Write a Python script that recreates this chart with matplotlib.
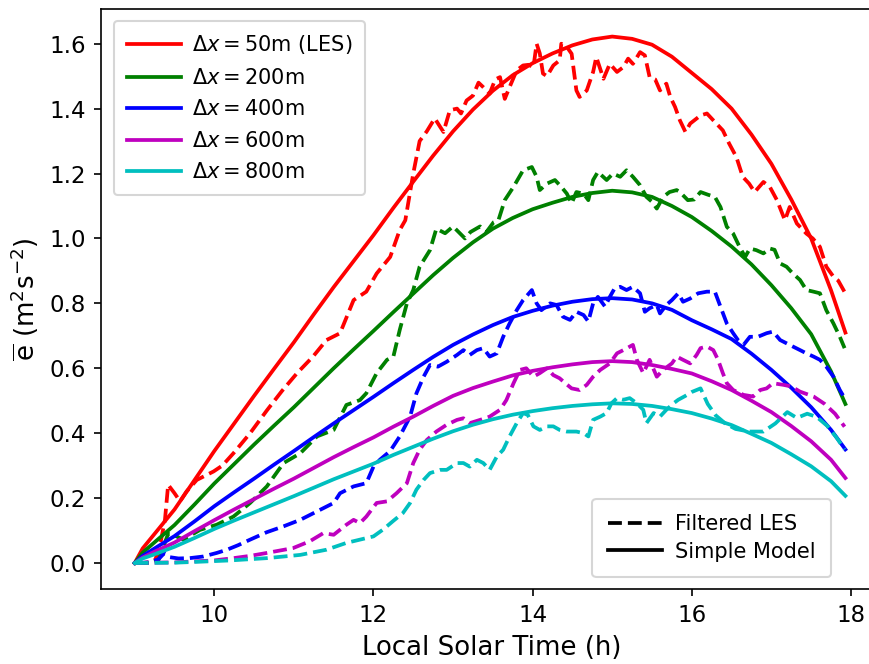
import matplotlib
matplotlib.use("Agg")
import matplotlib.pyplot as plt
from matplotlib.lines import Line2D

# ---- Simple model curves (TKE vs local solar time) ----
t_model = [9.0, 9.1, 9.25, 9.5, 9.75, 10.0, 10.25, 10.5, 10.75, 11.0, 11.25, 11.5, 11.75,
           12.0, 12.25, 12.5, 12.75, 13.0, 13.25, 13.5, 13.75, 14.0, 14.25, 14.5, 14.75,
           15.0, 15.25, 15.5, 15.75, 16.0, 16.25, 16.5, 16.75, 17.0, 17.25, 17.5, 17.75, 17.93]
model_50 = [0.0, 0.045, 0.09, 0.165, 0.255, 0.345, 0.43, 0.515, 0.598, 0.68, 0.766, 0.85, 0.93,
            1.01, 1.094, 1.175, 1.255, 1.33, 1.397, 1.455, 1.503, 1.54, 1.57, 1.595, 1.613,
            1.622, 1.615, 1.597, 1.56, 1.51, 1.46, 1.40, 1.32, 1.23, 1.12, 1.00, 0.84, 0.71]
model_200 = [0.0, 0.032, 0.064, 0.117, 0.18, 0.245, 0.305, 0.365, 0.423, 0.48, 0.54, 0.60, 0.658,
             0.715, 0.773, 0.83, 0.887, 0.94, 0.988, 1.03, 1.063, 1.09, 1.11, 1.128, 1.14,
             1.147, 1.142, 1.128, 1.10, 1.066, 1.023, 0.975, 0.92, 0.856, 0.785, 0.705, 0.59, 0.49]
model_400 = [0.0, 0.022, 0.045, 0.083, 0.128, 0.175, 0.218, 0.26, 0.303, 0.345, 0.388, 0.43, 0.471,
             0.512, 0.554, 0.595, 0.635, 0.672, 0.704, 0.733, 0.758, 0.777, 0.793, 0.805, 0.813,
             0.816, 0.812, 0.80, 0.78, 0.748, 0.72, 0.69, 0.645, 0.595, 0.54, 0.48, 0.41, 0.35]
model_600 = [0.0, 0.017, 0.035, 0.063, 0.098, 0.132, 0.165, 0.197, 0.229, 0.26, 0.293, 0.326, 0.357,
             0.387, 0.42, 0.451, 0.484, 0.515, 0.539, 0.559, 0.578, 0.592, 0.603, 0.612, 0.619,
             0.622, 0.619, 0.61, 0.598, 0.584, 0.56, 0.533, 0.50, 0.465, 0.422, 0.375, 0.318, 0.262]
model_800 = [0.0, 0.014, 0.027, 0.05, 0.077, 0.105, 0.131, 0.156, 0.181, 0.206, 0.232, 0.258, 0.282,
             0.306, 0.333, 0.358, 0.383, 0.406, 0.426, 0.443, 0.457, 0.468, 0.477, 0.484, 0.489,
             0.492, 0.49, 0.484, 0.474, 0.462, 0.445, 0.425, 0.398, 0.37, 0.335, 0.298, 0.252, 0.207]

# ---- Filtered LES (time, e) ----
les_50 = [(9.0, 0.0), (9.1, 0.0), (9.2, 0.003), (9.26, 0.01), (9.33, 0.07), (9.38, 0.133),
          (9.42, 0.241), (9.5, 0.215), (9.57, 0.19), (9.65, 0.22), (9.78, 0.256), (9.99, 0.282),
          (10.1, 0.30), (10.24, 0.338), (10.45, 0.40), (10.66, 0.47), (10.85, 0.53), (11.04, 0.585),
          (11.24, 0.636), (11.41, 0.687), (11.58, 0.708), (11.75, 0.81), (11.91, 0.836),
          (12.04, 0.892), (12.21, 0.943), (12.33, 1.026), (12.40, 1.056), (12.5, 1.20),
          (12.58, 1.30), (12.67, 1.33), (12.77, 1.37), (12.84, 1.343), (12.88, 1.328),
          (12.96, 1.395), (13.05, 1.40), (13.10, 1.385), (13.17, 1.425), (13.25, 1.44),
          (13.32, 1.48), (13.38, 1.466), (13.46, 1.446), (13.53, 1.49), (13.59, 1.497),
          (13.65, 1.43), (13.71, 1.466), (13.8, 1.518), (13.88, 1.533), (13.95, 1.535),
          (14.01, 1.528), (14.05, 1.60), (14.09, 1.57), (14.13, 1.508), (14.18, 1.50),
          (14.26, 1.533), (14.34, 1.549), (14.36, 1.60), (14.43, 1.59), (14.49, 1.569),
          (14.55, 1.456), (14.59, 1.436), (14.68, 1.456), (14.76, 1.513), (14.80, 1.559),
          (14.89, 1.492), (14.97, 1.538), (15.06, 1.513), (15.14, 1.528), (15.2, 1.554),
          (15.26, 1.538), (15.35, 1.574), (15.41, 1.564), (15.47, 1.497), (15.54, 1.49),
          (15.60, 1.456), (15.68, 1.477), (15.73, 1.436), (15.79, 1.405), (15.85, 1.364),
          (15.92, 1.328), (15.98, 1.354), (16.11, 1.379), (16.19, 1.385), (16.27, 1.364),
          (16.39, 1.333), (16.47, 1.292), (16.56, 1.251), (16.64, 1.19), (16.72, 1.169),
          (16.79, 1.143), (16.9, 1.174), (16.98, 1.159), (17.07, 1.118), (17.17, 1.056),
          (17.23, 1.097), (17.32, 1.046), (17.44, 1.015), (17.52, 1.0), (17.61, 0.974),
          (17.69, 0.913), (17.78, 0.882), (17.84, 0.87), (17.92, 0.835)]

les_200 = [(9.0, 0.0), (9.2, 0.0), (9.3, 0.01), (9.36, 0.05), (9.42, 0.09), (9.5, 0.085),
           (9.61, 0.072), (9.82, 0.102), (10.03, 0.118), (10.24, 0.143), (10.45, 0.185),
           (10.66, 0.236), (10.87, 0.308), (11.08, 0.338), (11.29, 0.39), (11.5, 0.41),
           (11.66, 0.487), (11.83, 0.502), (11.91, 0.523), (12.04, 0.585), (12.17, 0.626),
           (12.25, 0.636), (12.33, 0.718), (12.42, 0.80), (12.5, 0.841), (12.58, 0.913),
           (12.71, 0.964), (12.79, 1.03), (12.9, 1.016), (13.0, 1.037), (13.15, 1.0),
           (13.22, 1.02), (13.34, 1.037), (13.42, 1.02), (13.51, 1.05), (13.57, 1.056),
           (13.65, 1.118), (13.76, 1.159), (13.88, 1.21), (13.99, 1.22), (14.05, 1.19),
           (14.09, 1.149), (14.18, 1.169), (14.28, 1.18), (14.36, 1.159), (14.43, 1.138),
           (14.49, 1.108), (14.55, 1.143), (14.64, 1.138), (14.70, 1.118), (14.76, 1.18),
           (14.82, 1.205), (14.93, 1.18), (15.01, 1.2), (15.10, 1.19), (15.18, 1.21),
           (15.26, 1.19), (15.35, 1.164), (15.43, 1.128), (15.50, 1.113), (15.56, 1.092),
           (15.64, 1.128), (15.72, 1.143), (15.81, 1.149), (15.85, 1.143), (15.95, 1.118),
           (16.03, 1.12), (16.11, 1.143), (16.2, 1.135), (16.29, 1.128), (16.36, 1.097),
           (16.44, 1.036), (16.52, 1.015), (16.6, 0.974), (16.67, 0.943), (16.73, 0.969),
           (16.81, 0.964), (16.9, 0.954), (16.98, 0.969), (17.04, 0.965), (17.11, 0.923),
           (17.19, 0.913), (17.27, 0.892), (17.36, 0.872), (17.44, 0.841), (17.53, 0.836),
           (17.61, 0.831), (17.69, 0.779), (17.78, 0.738), (17.86, 0.697), (17.92, 0.662)]

les_400 = [(9.0, 0.0), (9.2, 0.002), (9.3, 0.012), (9.37, 0.03), (9.44, 0.018), (9.55, 0.014),
           (9.69, 0.015), (9.86, 0.02), (10.03, 0.031), (10.16, 0.041), (10.3, 0.055),
           (10.45, 0.072), (10.66, 0.095), (10.87, 0.113), (11.08, 0.133), (11.29, 0.159),
           (11.5, 0.185), (11.58, 0.215), (11.75, 0.236), (11.91, 0.246), (12.0, 0.297),
           (12.08, 0.318), (12.21, 0.345), (12.33, 0.39), (12.46, 0.451), (12.54, 0.523),
           (12.63, 0.574), (12.71, 0.61), (12.81, 0.605), (12.92, 0.62), (13.05, 0.641),
           (13.13, 0.656), (13.21, 0.641), (13.30, 0.656), (13.38, 0.662), (13.46, 0.636),
           (13.55, 0.646), (13.63, 0.697), (13.71, 0.738), (13.80, 0.779), (13.88, 0.81),
           (13.99, 0.841), (14.05, 0.80), (14.11, 0.779), (14.22, 0.80), (14.30, 0.795),
           (14.38, 0.759), (14.47, 0.749), (14.55, 0.774), (14.64, 0.764), (14.70, 0.744),
           (14.76, 0.80), (14.82, 0.82), (14.91, 0.79), (14.97, 0.82), (15.03, 0.846),
           (15.10, 0.851), (15.18, 0.841), (15.26, 0.851), (15.35, 0.831), (15.41, 0.774),
           (15.47, 0.785), (15.56, 0.795), (15.60, 0.769), (15.68, 0.795), (15.75, 0.81),
           (15.83, 0.831), (15.89, 0.805), (15.98, 0.815), (16.08, 0.831), (16.19, 0.836),
           (16.29, 0.836), (16.36, 0.79), (16.44, 0.738), (16.52, 0.708), (16.58, 0.687),
           (16.65, 0.672), (16.73, 0.697), (16.83, 0.697), (16.94, 0.708), (17.02, 0.713),
           (17.11, 0.687), (17.19, 0.677), (17.27, 0.667), (17.36, 0.656), (17.44, 0.646),
           (17.53, 0.636), (17.61, 0.626), (17.69, 0.605), (17.78, 0.574), (17.86, 0.533),
           (17.92, 0.508)]

les_600 = [(9.0, 0.0), (9.5, 0.002), (10.0, 0.008), (10.24, 0.015), (10.45, 0.022),
           (10.66, 0.031), (10.99, 0.046), (11.2, 0.067), (11.37, 0.092), (11.5, 0.087),
           (11.66, 0.118), (11.75, 0.133), (11.83, 0.123), (11.91, 0.143), (12.04, 0.185),
           (12.17, 0.19), (12.29, 0.215), (12.42, 0.246), (12.5, 0.308), (12.58, 0.349),
           (12.67, 0.379), (12.79, 0.405), (12.92, 0.426), (13.05, 0.441), (13.13, 0.446),
           (13.21, 0.431), (13.34, 0.441), (13.46, 0.451), (13.59, 0.472), (13.67, 0.502),
           (13.76, 0.554), (13.84, 0.595), (13.92, 0.60), (14.01, 0.574), (14.09, 0.585),
           (14.18, 0.60), (14.26, 0.579), (14.34, 0.569), (14.41, 0.554), (14.49, 0.538),
           (14.59, 0.533), (14.68, 0.549), (14.76, 0.574), (14.85, 0.595), (14.97, 0.615),
           (15.06, 0.646), (15.14, 0.656), (15.26, 0.672), (15.31, 0.626), (15.39, 0.585),
           (15.47, 0.626), (15.56, 0.574), (15.64, 0.595), (15.75, 0.615), (15.81, 0.636),
           (15.89, 0.626), (15.98, 0.615), (16.06, 0.641), (16.11, 0.662), (16.19, 0.667),
           (16.27, 0.656), (16.33, 0.626), (16.39, 0.585), (16.44, 0.554), (16.52, 0.533),
           (16.65, 0.518), (16.77, 0.513), (16.86, 0.533), (16.94, 0.538), (17.02, 0.554),
           (17.15, 0.549), (17.25, 0.544), (17.36, 0.528), (17.53, 0.513), (17.67, 0.49),
           (17.8, 0.46), (17.92, 0.42)]

les_800 = [(9.0, 0.0), (9.5, 0.001), (9.82, 0.004), (10.2, 0.008), (10.66, 0.015),
           (11.08, 0.025), (11.41, 0.041), (11.66, 0.062), (11.83, 0.072), (12.0, 0.082),
           (12.12, 0.103), (12.25, 0.13), (12.37, 0.154), (12.46, 0.185), (12.54, 0.226),
           (12.63, 0.256), (12.71, 0.277), (12.84, 0.287), (12.92, 0.287), (13.05, 0.308),
           (13.13, 0.308), (13.21, 0.297), (13.30, 0.318), (13.38, 0.308), (13.46, 0.287),
           (13.55, 0.328), (13.63, 0.349), (13.71, 0.39), (13.80, 0.431), (13.88, 0.462),
           (13.94, 0.456), (14.01, 0.421), (14.09, 0.41), (14.18, 0.421), (14.26, 0.421),
           (14.34, 0.41), (14.43, 0.405), (14.55, 0.405), (14.64, 0.40), (14.70, 0.39),
           (14.76, 0.441), (14.85, 0.451), (14.93, 0.462), (14.99, 0.492), (15.06, 0.508),
           (15.14, 0.503), (15.22, 0.508), (15.31, 0.492), (15.39, 0.472), (15.43, 0.431),
           (15.52, 0.462), (15.60, 0.451), (15.68, 0.472), (15.77, 0.492), (15.83, 0.503),
           (15.92, 0.515), (16.0, 0.527), (16.11, 0.538), (16.2, 0.49), (16.3, 0.455),
           (16.42, 0.43), (16.55, 0.413), (16.72, 0.405), (16.9, 0.405), (17.05, 0.43),
           (17.2, 0.465), (17.32, 0.447), (17.45, 0.46), (17.57, 0.45), (17.7, 0.423),
           (17.82, 0.386), (17.92, 0.35)]

labels = [r'$\Delta x = $50m (LES)', r'$\Delta x = $200m', r'$\Delta x = $400m',
          r'$\Delta x = $600m', r'$\Delta x = $800m']
colors = ['r', 'g', 'b', 'm', 'c']
models = [model_50, model_200, model_400, model_600, model_800]
les = [les_50, les_200, les_400, les_600, les_800]

W, H, DPI = 869, 664, 150
fig = plt.figure(figsize=(W / DPI, H / DPI), dpi=DPI)
ax_l, ax_r, ax_b, ax_t = 100.5, 882.0, 589.3, 9.3
ax = fig.add_axes([ax_l / W, (H - ax_b) / H, (ax_r - ax_l) / W, (ax_b - ax_t) / H])


def ax_frac(px, py):
    return (px - ax_l) / (ax_r - ax_l), (ax_b - py) / (ax_b - ax_t)


LW = 1.8
for c, m, d in zip(colors, models, les):
    t, e = zip(*d)
    ax.plot(t, e, '--', color=c, lw=LW)
    ax.plot(t_model, m, '-', color=c, lw=LW)

ax.set_xlim(8.57, 18.39)
ax.set_ylim(-0.081, 1.706)
ax.set_xticks([10, 12, 14, 16, 18])
ax.set_yticks([0.0, 0.2, 0.4, 0.6, 0.8, 1.0, 1.2, 1.4, 1.6])
ax.tick_params(labelsize=11)
ax.set_xlabel('Local Solar Time (h)', fontsize=12.5)
ax.set_ylabel(r'$\overline{\mathrm{e}}$ (m$^2$s$^{-2}$)', fontsize=12.5)

color_handles = [Line2D([], [], color=c, lw=LW) for c in colors]
leg1 = ax.legend(color_handles, labels, loc='upper left', bbox_to_anchor=ax_frac(114, 21),
                 borderaxespad=0, fontsize=10, borderpad=0.6, labelspacing=0.55,
                 handlelength=2.6, handletextpad=0.55)
ax.add_artist(leg1)

style_handles = [Line2D([], [], color='k', ls='--', lw=LW),
                 Line2D([], [], color='k', ls='-', lw=LW)]
ax.legend(style_handles, ['Filtered LES', 'Simple Model'], loc='lower right',
          bbox_to_anchor=ax_frac(831, 577.3), borderaxespad=0, fontsize=10,
          borderpad=0.75, labelspacing=0.35, handlelength=2.6, handletextpad=0.6)

fig.savefig('out.png', dpi=DPI)
